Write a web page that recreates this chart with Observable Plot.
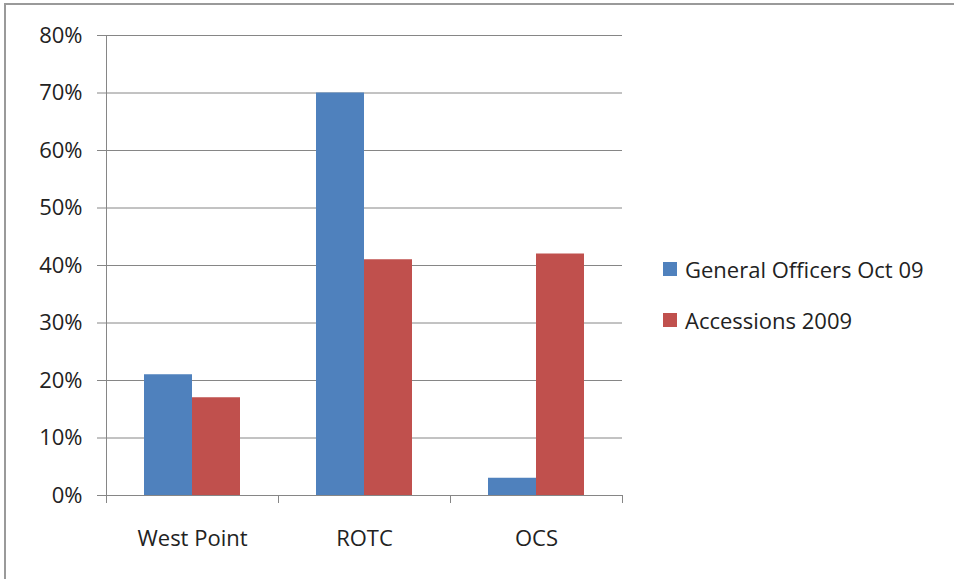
<!DOCTYPE html>
<html><head><meta charset="utf-8">
<script src="https://cdn.jsdelivr.net/npm/d3@7"></script>
<script src="https://cdn.jsdelivr.net/npm/@observablehq/plot@0.6"></script>
<style>
html,body{margin:0;padding:0;background:#fff;}
#wrap{position:relative;width:954px;height:579px;overflow:hidden;font-family:"Open Sans",sans-serif;color:#222;}
#border{position:absolute;left:4px;top:3px;width:1000px;height:1000px;border:2px solid #9a9a9a;box-sizing:border-box;}
#chart{position:absolute;left:0;top:0;}
#legend{position:absolute;left:663px;top:256px;font-size:22px;line-height:26px;}
#legend .item{display:flex;align-items:center;height:26px;margin-bottom:25px;}
#legend .sw{width:14px;height:14px;margin-right:8px;}
</style>
</head><body>
<div id="wrap"><div id="border"></div><div id="chart"></div><div id="legend"></div></div>
<script>
const categories = ["West Point", "ROTC", "OCS"];
const seriesNames = ["General Officers Oct 09", "Accessions 2009"];
const generalOfficers = [0.21, 0.70, 0.03];
const accessions = [0.17, 0.41, 0.42];
const colors = ["#4F81BD", "#C0504D"];
const yTicks = [0, 0.1, 0.2, 0.3, 0.4, 0.5, 0.6, 0.7, 0.8];

const data = [];
categories.forEach((c, i) => {
  data.push({category: c, series: seriesNames[0], value: generalOfficers[i]});
  data.push({category: c, series: seriesNames[1], value: accessions[i]});
});

const fmt = d3.format(".0%");
const plot = Plot.plot({
  width: 954, height: 579,
  marginLeft: 106, marginRight: 332, marginTop: 35, marginBottom: 84,
  style: {fontFamily: "'Open Sans', sans-serif", fontSize: "22px", color: "#222", background: "transparent", overflow: "visible"},
  fx: {domain: categories, paddingInner: 0, paddingOuter: 0, label: null},
  x: {domain: seriesNames, paddingInner: 0, paddingOuter: 0.766, axis: null},
  y: {domain: [0, 0.8], label: null},
  color: {domain: seriesNames, range: colors},
  marks: [
    Plot.gridY(yTicks, {stroke: "#868686", strokeOpacity: 1}),
    Plot.axisY(yTicks, {tickSize: 9, tickPadding: 15, tickFormat: fmt, stroke: "#868686", fill: "#222", fontSize: 22, label: null}),
    Plot.axisFx({anchor: "bottom", tickSize: 0, tickPadding: 35, fontSize: 22, fill: "#222", label: null}),
    Plot.barY(data, {fx: "category", x: "series", y: "value", fill: "series"})
  ]
});
document.getElementById("chart").appendChild(plot);

// axis line and category boundary ticks, positioned through Plot's scales
const fx = plot.scale("fx"), y = plot.scale("y");
const svg = d3.select(plot);
const y0 = y.apply(0), yTop = y.apply(0.8);
const edges = categories.map(c => fx.apply(c));
edges.push(fx.apply(categories[categories.length - 1]) + fx.bandwidth);
const g = svg.append("g").attr("stroke", "#868686").attr("stroke-width", 1);
g.append("line").attr("x1", edges[0] + 0.5).attr("x2", edges[0] + 0.5).attr("y1", yTop).attr("y2", y0);
edges.forEach(e => g.append("line").attr("x1", e + 0.5).attr("x2", e + 0.5).attr("y1", y0).attr("y2", y0 + 8));

const legend = d3.select("#legend");
seriesNames.forEach((s, i) => {
  const it = legend.append("div").attr("class", "item");
  it.append("div").attr("class", "sw").style("background", colors[i]);
  it.append("span").text(s);
});
</script>
</body></html>
